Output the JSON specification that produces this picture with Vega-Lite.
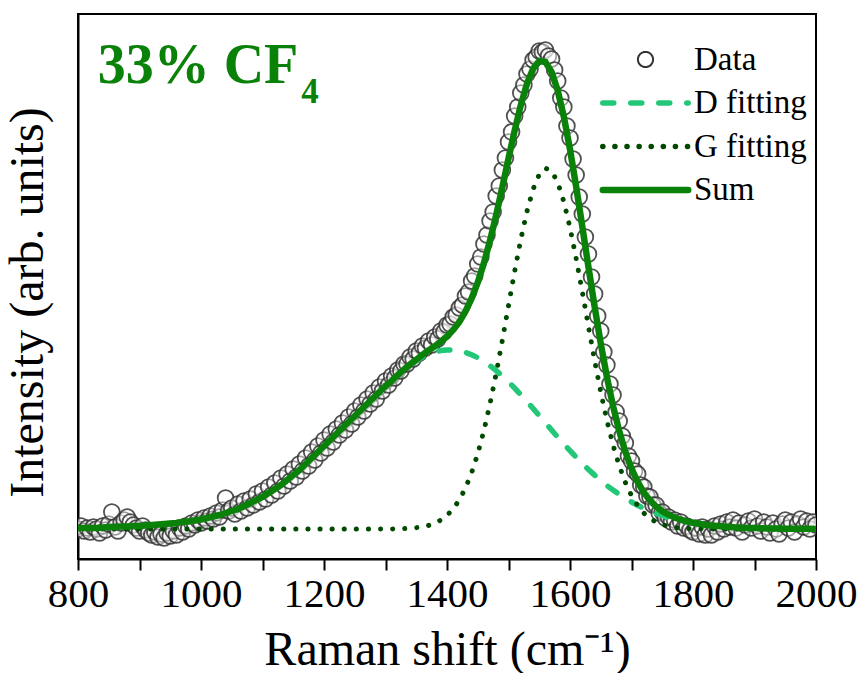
{
  "$schema": "https://vega.github.io/schema/vega-lite/v6.json",
  "width": 738,
  "height": 545,
  "autosize": {"type": "none"},
  "padding": {"left": 78, "top": 14, "right": 45, "bottom": 114},
  "background": "white",
  "config": {
    "view": {"stroke": "black", "strokeWidth": 2},
    "font": "Liberation Serif"
  },
  "datasets": {
    "raman": [
      {"x":800,"y":0},{"x":805,"y":3},{"x":810,"y":-2},{"x":815,"y":1},{"x":820,"y":-3},{"x":825,"y":2},{"x":830,"y":0},{"x":835,"y":-4},{"x":840,"y":3},{"x":845,"y":-1},
      {"x":850,"y":5},{"x":855,"y":17},{"x":860,"y":2},{"x":865,"y":-2},{"x":870,"y":6},{"x":875,"y":9},{"x":880,"y":12},{"x":885,"y":7},{"x":890,"y":4},{"x":895,"y":1},
      {"x":900,"y":-2},{"x":905,"y":3},{"x":910,"y":-1},{"x":915,"y":-4},{"x":920,"y":-6},{"x":925,"y":-3},{"x":930,"y":-8},{"x":935,"y":-5},{"x":940,"y":-9},{"x":945,"y":-4},
      {"x":950,"y":-7},{"x":955,"y":-2},{"x":960,"y":-6},{"x":965,"y":1},{"x":970,"y":-3},{"x":975,"y":3},{"x":980,"y":0},{"x":985,"y":6},{"x":990,"y":4},{"x":995,"y":9},
      {"x":1000,"y":6},{"x":1005,"y":11},{"x":1010,"y":8},{"x":1015,"y":13},{"x":1020,"y":10},{"x":1025,"y":16},{"x":1030,"y":12},{"x":1035,"y":19},{"x":1040,"y":31},{"x":1045,"y":18},
      {"x":1050,"y":21},{"x":1055,"y":15},{"x":1060,"y":25},{"x":1065,"y":18},{"x":1070,"y":28},{"x":1075,"y":21},{"x":1080,"y":30},{"x":1085,"y":24},{"x":1090,"y":35},{"x":1095,"y":27},
      {"x":1100,"y":38},{"x":1105,"y":30},{"x":1110,"y":42},{"x":1115,"y":34},{"x":1120,"y":46},{"x":1125,"y":38},{"x":1130,"y":51},{"x":1135,"y":43},{"x":1140,"y":55},{"x":1145,"y":48},
      {"x":1150,"y":60},{"x":1155,"y":52},{"x":1160,"y":65},{"x":1165,"y":58},{"x":1170,"y":71},{"x":1175,"y":63},{"x":1180,"y":77},{"x":1185,"y":69},{"x":1190,"y":83},{"x":1195,"y":76},
      {"x":1200,"y":89},{"x":1205,"y":81},{"x":1210,"y":95},{"x":1215,"y":87},{"x":1220,"y":100},{"x":1225,"y":94},{"x":1230,"y":106},{"x":1235,"y":99},{"x":1240,"y":112},{"x":1245,"y":105},
      {"x":1250,"y":118},{"x":1255,"y":112},{"x":1260,"y":124},{"x":1265,"y":118},{"x":1270,"y":130},{"x":1275,"y":125},{"x":1280,"y":136},{"x":1285,"y":130},{"x":1290,"y":142},{"x":1295,"y":138},
      {"x":1300,"y":148},{"x":1305,"y":144},{"x":1310,"y":153},{"x":1315,"y":151},{"x":1320,"y":159},{"x":1325,"y":158},{"x":1330,"y":165},{"x":1335,"y":165},{"x":1340,"y":172},{"x":1345,"y":170},
      {"x":1350,"y":178},{"x":1355,"y":176},{"x":1360,"y":183},{"x":1365,"y":181},{"x":1370,"y":188},{"x":1375,"y":184},{"x":1380,"y":192},{"x":1385,"y":190},{"x":1390,"y":198},{"x":1395,"y":197},
      {"x":1400,"y":204},{"x":1405,"y":205},{"x":1410,"y":212},{"x":1415,"y":214},{"x":1420,"y":221},{"x":1425,"y":224},{"x":1430,"y":233},{"x":1435,"y":237},{"x":1440,"y":248},{"x":1445,"y":253},
      {"x":1450,"y":265},{"x":1455,"y":272},{"x":1460,"y":285},{"x":1465,"y":294},{"x":1470,"y":308},{"x":1475,"y":317},{"x":1480,"y":333},{"x":1485,"y":343},{"x":1490,"y":359},{"x":1495,"y":371},
      {"x":1500,"y":387},{"x":1505,"y":397},{"x":1510,"y":413},{"x":1515,"y":422},{"x":1520,"y":436},{"x":1525,"y":444},{"x":1530,"y":455},{"x":1535,"y":460},{"x":1540,"y":469},{"x":1545,"y":472},
      {"x":1550,"y":478},{"x":1555,"y":477},{"x":1560,"y":479},{"x":1565,"y":473},{"x":1570,"y":470},{"x":1575,"y":459},{"x":1580,"y":448},{"x":1585,"y":431},{"x":1590,"y":422},{"x":1595,"y":403},
      {"x":1600,"y":391},{"x":1605,"y":370},{"x":1610,"y":354},{"x":1615,"y":332},{"x":1620,"y":315},{"x":1625,"y":292},{"x":1630,"y":275},{"x":1635,"y":252},{"x":1640,"y":235},{"x":1645,"y":213},
      {"x":1650,"y":198},{"x":1655,"y":177},{"x":1660,"y":164},{"x":1665,"y":145},{"x":1670,"y":134},{"x":1675,"y":117},{"x":1680,"y":108},{"x":1685,"y":93},{"x":1690,"y":86},{"x":1695,"y":73},
      {"x":1700,"y":68},{"x":1705,"y":58},{"x":1710,"y":55},{"x":1715,"y":44},{"x":1720,"y":42},{"x":1725,"y":33},{"x":1730,"y":32},{"x":1735,"y":24},{"x":1740,"y":24},{"x":1745,"y":16},
      {"x":1750,"y":17},{"x":1755,"y":11},{"x":1760,"y":12},{"x":1765,"y":7},{"x":1770,"y":9},{"x":1775,"y":3},{"x":1780,"y":7},{"x":1785,"y":1},{"x":1790,"y":3},{"x":1795,"y":-1},
      {"x":1800,"y":-3},{"x":1805,"y":1},{"x":1810,"y":-5},{"x":1815,"y":2},{"x":1820,"y":-6},{"x":1825,"y":0},{"x":1830,"y":-6},{"x":1835,"y":3},{"x":1840,"y":-3},{"x":1845,"y":5},
      {"x":1850,"y":0},{"x":1855,"y":7},{"x":1860,"y":2},{"x":1865,"y":9},{"x":1870,"y":1},{"x":1875,"y":6},{"x":1880,"y":-3},{"x":1885,"y":4},{"x":1890,"y":8},{"x":1895,"y":1},
      {"x":1900,"y":10},{"x":1905,"y":3},{"x":1910,"y":-2},{"x":1915,"y":7},{"x":1920,"y":2},{"x":1925,"y":-4},{"x":1930,"y":6},{"x":1935,"y":0},{"x":1940,"y":-5},{"x":1945,"y":5},
      {"x":1950,"y":9},{"x":1955,"y":1},{"x":1960,"y":7},{"x":1965,"y":-3},{"x":1970,"y":5},{"x":1975,"y":10},{"x":1980,"y":2},{"x":1985,"y":8},{"x":1990,"y":0},{"x":1995,"y":7},{"x":2000,"y":4}
    ],
    "fits": [
      {"x":800,"D":1,"G":0,"S":1},{"x":810,"D":1,"G":0,"S":1},{"x":820,"D":1,"G":0,"S":1},{"x":830,"D":1,"G":0,"S":1},{"x":840,"D":1.5,"G":0,"S":1.5},
      {"x":850,"D":2,"G":0,"S":2},{"x":860,"D":2,"G":0,"S":2},{"x":870,"D":2.5,"G":0,"S":2.5},{"x":880,"D":2.5,"G":0,"S":2.5},{"x":890,"D":3,"G":0,"S":3},
      {"x":900,"D":3,"G":0,"S":3},{"x":910,"D":3.5,"G":0,"S":3.5},{"x":920,"D":4,"G":0,"S":4},{"x":930,"D":4.5,"G":0,"S":4.5},{"x":940,"D":5,"G":0,"S":5},
      {"x":950,"D":5.5,"G":0,"S":5.5},{"x":960,"D":6,"G":0,"S":6},{"x":970,"D":7,"G":0,"S":7},{"x":980,"D":7.5,"G":0,"S":7.5},{"x":990,"D":8.5,"G":0,"S":8.5},
      {"x":1000,"D":9.5,"G":0,"S":9.5},{"x":1010,"D":11,"G":0,"S":11},{"x":1020,"D":12.5,"G":0,"S":12.5},{"x":1030,"D":14,"G":0,"S":14},{"x":1040,"D":16,"G":0,"S":16},
      {"x":1050,"D":18,"G":0,"S":18},{"x":1060,"D":20,"G":0,"S":20},{"x":1070,"D":23,"G":0,"S":23},{"x":1080,"D":26,"G":0,"S":26},{"x":1090,"D":29,"G":0,"S":29},
      {"x":1100,"D":32,"G":0,"S":32},{"x":1110,"D":36,"G":0,"S":36},{"x":1120,"D":40,"G":0,"S":40},{"x":1130,"D":44,"G":0,"S":44},{"x":1140,"D":49,"G":0,"S":49},
      {"x":1150,"D":54,"G":0,"S":54},{"x":1160,"D":59,"G":0,"S":59},{"x":1170,"D":65,"G":0,"S":65},{"x":1180,"D":71,"G":0,"S":71},{"x":1190,"D":77,"G":0,"S":77},
      {"x":1200,"D":83,"G":0,"S":83},{"x":1210,"D":89,"G":0,"S":89},{"x":1220,"D":95,"G":0,"S":95},{"x":1230,"D":101,"G":0,"S":101},{"x":1240,"D":107,"G":0,"S":107},
      {"x":1250,"D":113,"G":0,"S":113},{"x":1260,"D":119,"G":0,"S":119},{"x":1270,"D":125,"G":0,"S":125},{"x":1280,"D":131,"G":0,"S":131},{"x":1290,"D":137,"G":0,"S":137},
      {"x":1300,"D":143,"G":0.1,"S":143.1},{"x":1310,"D":148,"G":0.1,"S":148.1},{"x":1320,"D":154,"G":0.2,"S":154.2},{"x":1330,"D":159,"G":0.4,"S":159.4},{"x":1340,"D":164,"G":0.8,"S":164.8},
      {"x":1350,"D":168,"G":1.3,"S":169.3},{"x":1360,"D":172,"G":2.2,"S":174.2},{"x":1370,"D":175,"G":3.6,"S":178.6},{"x":1380,"D":177,"G":5.7,"S":182.7},{"x":1390,"D":178.5,"G":8.9,"S":187.4},
      {"x":1400,"D":179,"G":13.6,"S":192.6},{"x":1410,"D":179,"G":20.1,"S":199.1},{"x":1420,"D":178.1,"G":29,"S":207.1},{"x":1430,"D":176.6,"G":40.9,"S":217.5},{"x":1440,"D":174.3,"G":56.2,"S":230.5},
      {"x":1450,"D":171.3,"G":75.3,"S":246.6},{"x":1460,"D":167.6,"G":98.3,"S":265.9},{"x":1470,"D":163.3,"G":125.3,"S":288.6},{"x":1480,"D":158.4,"G":155.7,"S":314.1},{"x":1490,"D":153,"G":188.8,"S":341.8},
      {"x":1500,"D":147.2,"G":223.3,"S":370.5},{"x":1510,"D":140.9,"G":257.5,"S":398.4},{"x":1520,"D":134.3,"G":289.6,"S":423.9},{"x":1530,"D":127.6,"G":317.6,"S":445.2},{"x":1540,"D":120.5,"G":339.8,"S":460.3},
      {"x":1550,"D":113.4,"G":354.6,"S":468},{"x":1560,"D":106.2,"G":360.8,"S":467},{"x":1570,"D":99,"G":358.1,"S":457.1},{"x":1580,"D":91.9,"G":346.7,"S":438.6},{"x":1590,"D":85,"G":327.3,"S":412.3},
      {"x":1600,"D":78.3,"G":301.4,"S":379.7},{"x":1610,"D":71.8,"G":270.6,"S":342.4},{"x":1620,"D":65.5,"G":237.1,"S":302.6},{"x":1630,"D":59.5,"G":202.5,"S":262},{"x":1640,"D":53.9,"G":168.6,"S":222.5},
      {"x":1650,"D":48.5,"G":137,"S":185.5},{"x":1660,"D":43.5,"G":108.7,"S":152.2},{"x":1670,"D":38.9,"G":84,"S":122.9},{"x":1680,"D":34.6,"G":63.4,"S":98},{"x":1690,"D":30.6,"G":46.6,"S":77.2},
      {"x":1700,"D":27,"G":33.4,"S":60.4},{"x":1710,"D":23.7,"G":23.4,"S":47.1},{"x":1720,"D":20.7,"G":15.9,"S":36.6},{"x":1730,"D":18,"G":10.6,"S":28.6},{"x":1740,"D":15.6,"G":6.9,"S":22.5},
      {"x":1750,"D":13.5,"G":4.3,"S":17.8},{"x":1760,"D":11.6,"G":2.7,"S":14.3},{"x":1770,"D":9.9,"G":1.6,"S":11.5},{"x":1780,"D":8.4,"G":0.95,"S":9.35},{"x":1790,"D":7.1,"G":0.54,"S":7.64},
      {"x":1800,"D":6,"G":0.3,"S":6.3},{"x":1810,"D":5.1,"G":0.2,"S":5.3},{"x":1820,"D":4.2,"G":0.1,"S":4.3},{"x":1830,"D":3.5,"G":0,"S":3.5},{"x":1840,"D":2.9,"G":0,"S":2.9},
      {"x":1850,"D":2.4,"G":0,"S":2.4},{"x":1860,"D":2,"G":0,"S":2},{"x":1870,"D":1.6,"G":0,"S":1.6},{"x":1880,"D":1.3,"G":0,"S":1.3},{"x":1890,"D":1.1,"G":0,"S":1.1},
      {"x":1900,"D":0.9,"G":0,"S":0.9},{"x":1910,"D":0.7,"G":0,"S":0.7},{"x":1920,"D":0.6,"G":0,"S":0.6},{"x":1930,"D":0.5,"G":0,"S":0.5},{"x":1940,"D":0.4,"G":0,"S":0.4},
      {"x":1950,"D":0.3,"G":0,"S":0.3},{"x":1960,"D":0.3,"G":0,"S":0.3},{"x":1970,"D":0.2,"G":0,"S":0.2},{"x":1980,"D":0.2,"G":0,"S":0.2},{"x":1990,"D":0.2,"G":0,"S":0.2},{"x":2000,"D":0.1,"G":0,"S":0.1}
    ],
    "one": [{}]
  },
  "layer": [
    {
      "data": {"name": "raman"},
      "mark": {"type": "point", "shape": "circle", "size": 250, "filled": false, "fill": "white", "fillOpacity": 0.45, "stroke": "#333333", "strokeOpacity": 0.85, "strokeWidth": 1.8, "clip": true},
      "encoding": {
        "x": {
          "field": "x", "type": "quantitative",
          "scale": {"domain": [800, 2000], "nice": false, "zero": false},
          "axis": {
            "orient": "bottom",
            "values": [800, 900, 1000, 1100, 1200, 1300, 1400, 1500, 1600, 1700, 1800, 1900, 2000], "format": "d",
            "labelExpr": "datum.value % 200 === 0 ? datum.label : ''",
            "tickSize": 11, "tickWidth": 2, "tickColor": "black",
            "domainColor": "black", "domainWidth": 2, "grid": false,
            "labelFont": "Liberation Serif", "labelFontSize": 41, "labelColor": "black", "labelPadding": 4,
            "labelFlush": false, "labelOverlap": false,
            "title": "Raman shift (cm⁻¹)", "titleFont": "Liberation Serif", "titleFontSize": 48,
            "titleFontWeight": "normal", "titleColor": "black", "titlePadding": 12,
            "encode": {
              "ticks": {"update": {"y2": {"signal": "datum.value % 200 === 0 ? 11 : 6"}}}
            }
          }
        },
        "y": {
          "field": "y", "type": "quantitative",
          "scale": {"domain": [-30, 515], "nice": false, "zero": false},
          "axis": {
            "orient": "left",
            "labels": false, "ticks": false, "grid": false,
            "domainColor": "black", "domainWidth": 2,
            "title": "Intensity (arb. units)", "titleFont": "Liberation Serif", "titleFontSize": 48,
            "titleFontWeight": "normal", "titleColor": "black", "titlePadding": 26, "titleY": 288
          }
        }
      }
    },
    {
      "data": {"name": "fits"},
      "mark": {"type": "line", "strokeWidth": 5.5, "strokeDash": [11, 17], "strokeCap": "round", "clip": true},
      "encoding": {
        "x": {"field": "x", "type": "quantitative"},
        "y": {"field": "D", "type": "quantitative"},
        "color": {
          "datum": "D fitting",
          "scale": {"domain": ["Data", "D fitting", "G fitting", "Sum"], "range": ["#333333", "#22c777", "#004a00", "#0a820a"]},
          "legend": {
            "title": null, "orient": "none", "legendX": 551, "legendY": 29, "padding": 0,
            "symbolType": "circle", "symbolSize": 180, "symbolStrokeWidth": 2,
            "labelFont": "Liberation Serif", "labelFontSize": 33, "labelColor": "black",
            "labelOffset": 32, "rowPadding": 9.5,
            "encode": {
              "symbols": {
                "update": {
                  "shape": {"signal": "datum.value === 'Data' ? 'circle' : 'stroke'"},
                  "size": {"signal": "datum.value === 'Data' ? 230 : 7300"},
                  "strokeDash": {"signal": "datum.value === 'D fitting' ? [11, 17] : (datum.value === 'G fitting' ? [0.1, 12] : [1, 0])"},
                  "strokeWidth": {"signal": "datum.value === 'Data' ? 2 : (datum.value === 'Sum' ? 6.5 : 5.5)"},
                  "strokeCap": {"value": "round"},
                  "fill": {"signal": "datum.value === 'Data' ? 'white' : 'transparent'"},
                  "opacity": {"value": 1}
                }
              }
            }
          }
        }
      }
    },
    {
      "data": {"name": "fits"},
      "mark": {"type": "line", "strokeWidth": 5, "strokeDash": [0.1, 12], "strokeCap": "round", "clip": true},
      "encoding": {
        "x": {"field": "x", "type": "quantitative"},
        "y": {"field": "G", "type": "quantitative"},
        "color": {"datum": "G fitting"}
      }
    },
    {
      "data": {"name": "fits"},
      "mark": {"type": "line", "strokeWidth": 6.5, "strokeCap": "round", "clip": true},
      "encoding": {
        "x": {"field": "x", "type": "quantitative"},
        "y": {"field": "S", "type": "quantitative"},
        "color": {"datum": "Sum"}
      }
    },
    {
      "data": {"name": "one"},
      "mark": {"type": "text", "text": "33% CF", "font": "Liberation Serif", "fontSize": 56, "fontWeight": "bold", "color": "#0a820a", "align": "left", "baseline": "alphabetic"},
      "encoding": {
        "x": {"datum": 832, "type": "quantitative"},
        "y": {"datum": 446, "type": "quantitative"}
      }
    },
    {
      "data": {"name": "one"},
      "mark": {"type": "text", "text": "4", "font": "Liberation Serif", "fontSize": 35, "fontWeight": "bold", "color": "#0a820a", "align": "left", "baseline": "alphabetic"},
      "encoding": {
        "x": {"datum": 1163, "type": "quantitative"},
        "y": {"datum": 426, "type": "quantitative"}
      }
    }
  ]
}
